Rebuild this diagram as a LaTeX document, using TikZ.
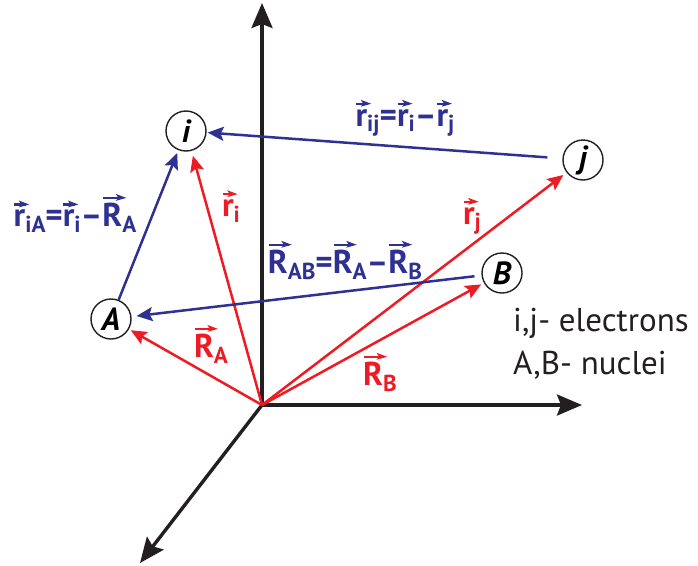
\documentclass[tikz,border=0pt]{standalone}
\usepackage{fontspec}
\setmainfont{PT Sans}
\usetikzlibrary{arrows.meta}
\definecolor{myred}{RGB}{237,28,36}
\definecolor{myblue}{RGB}{46,49,146}
\definecolor{myblack}{RGB}{35,31,32}
\newlength\vvw \newlength\vvh
\newcommand\vv[1]{\setbox0=\hbox{#1}\setlength\vvw{\wd0}\setlength\vvh{\ht0}%
  \makebox[0pt][l]{\tikz[overlay,baseline=0pt,x=1pt,y=1pt]{%
    \draw[color=.,line width=0.07em] (0.05\vvw,\vvh+0.17em) -- (\vvw+0.02em,\vvh+0.17em);
    \fill[color=.] (\vvw+0.12em,\vvh+0.17em) -- (\vvw-0.2em,\vvh+0.29em) -- (\vvw-0.12em,\vvh+0.17em) -- (\vvw-0.2em,\vvh+0.08em) -- cycle;}}#1}
\newcommand\sub[1]{\raisebox{-0.17em}{\scalebox{0.7}{#1}}}
\begin{document}
\begin{tikzpicture}[x=1pt,y=-1pt,
  axis/.style={draw=myblack,line width=3.4pt,-{Stealth[length=25pt,width=21pt,inset=4pt]}},
  redvec/.style={draw=myred,line width=2.5pt,-{Stealth[length=16pt,width=14pt,inset=3pt]}},
  bluevec/.style={draw=myblue,line width=2.5pt,-{Stealth[length=16pt,width=14pt,inset=3pt]}},
  particle/.style={circle,draw=myblack,line width=1.4pt,minimum size=40pt,inner sep=0pt,
    font=\fontsize{32}{32}\selectfont\bfseries\itshape},
  redlbl/.style={text=myred,font=\fontsize{33}{33}\selectfont\bfseries,inner sep=0pt},
  bluelbl/.style={text=myblue,font=\fontsize{33}{33}\selectfont\bfseries,inner sep=0pt},
  legend/.style={anchor=north west,align=left,font=\fontsize{33}{43}\selectfont,inner sep=0pt,text=myblack}
]
\useasboundingbox (0,0) rectangle (698,565);
\coordinate (O) at (262,405);
\coordinate (zt) at (262,3);
\coordinate (xt) at (582,405);
\coordinate (yt) at (140,563);
\draw[axis] (O) -- (zt);
\draw[axis] (O) -- (xt);
\draw[axis] (O) -- (yt);

\node[particle] (i) at (186,131) {i};
\node[particle] (A) at (111,319) {A};
\node[particle] (j) at (583,160) {j};
\node[particle] (B) at (502,273) {B};

\draw[redvec,shorten >=5pt] (O) -- (i);
\draw[redvec,shorten >=4pt] (O) -- (j);
\draw[redvec,shorten >=2pt] (O) -- (A);
\draw[redvec,shorten >=3pt] (O) -- (B);

\draw[bluevec,shorten <=15pt,shorten >=1pt] (j) -- (i);
\draw[bluevec,shorten >=3pt] (A) -- (i);
\draw[bluevec,shorten <=7pt,shorten >=5pt] (B) -- (A);

\node[bluelbl] (lij) at (405,123) {\vv{r}\sub{ij}=\vv{r}\sub{i}–\vv{r}\sub{j}};
\node[bluelbl] (liA) at (75,218) {\vv{r}\sub{iA}=\vv{r}\sub{i}–\vv{R}\sub{A}};
\node[bluelbl] (lAB) at (345,265) {\vv{R}\sub{AB}=\vv{R}\sub{A}–\vv{R}\sub{B}};
\node[redlbl] (lri) at (231,211) {\vv{r}\sub{i}};
\node[redlbl] (lrj) at (472,221) {\vv{r}\sub{j}};
\node[redlbl] (lRA) at (211,349) {\vv{R}\sub{A}};
\node[redlbl] (lRB) at (380,377) {\vv{R}\sub{B}};

\node[legend] (leg) at (513,308) {i,j- electrons\\A,B- nuclei};
\end{tikzpicture}
\end{document}
